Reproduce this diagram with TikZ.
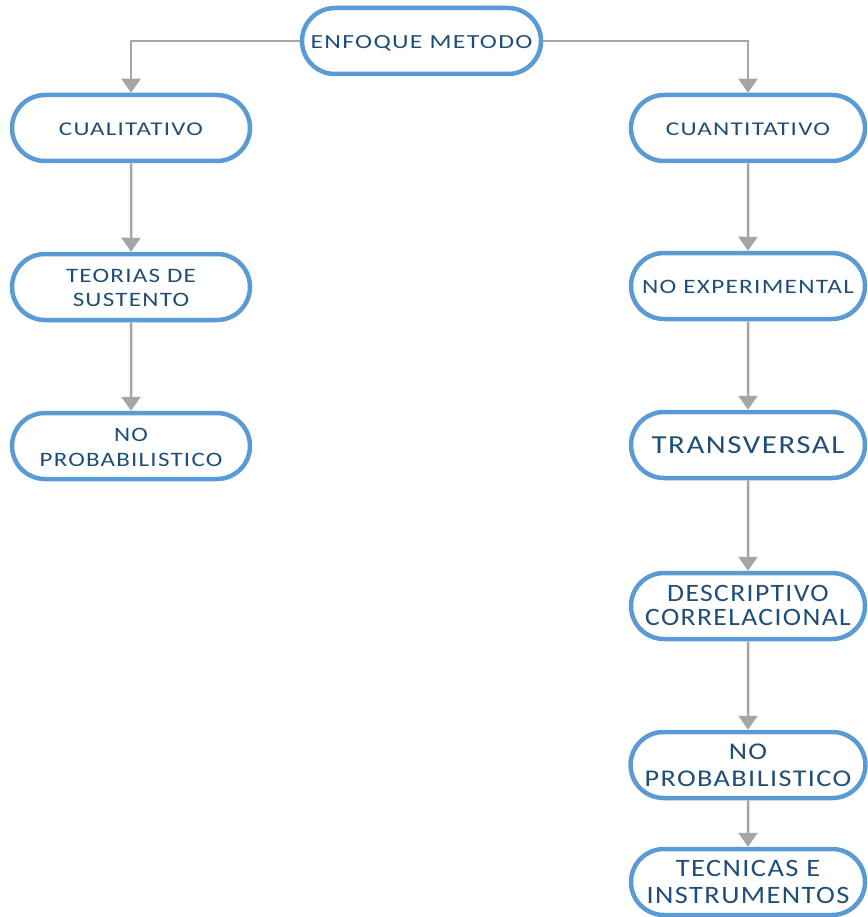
\documentclass[tikz,border=0pt]{standalone}
\usepackage{fontspec}
\setmainfont{Carlito}[LetterSpace=5]
\usetikzlibrary{shapes.misc,arrows.meta}
\definecolor{boxline}{RGB}{91,155,213}
\definecolor{boxtext}{RGB}{31,78,121}
\definecolor{linkgray}{RGB}{165,165,165}
% horizontally widened, centred label text (lowered a little, size kept)
\newcommand{\widelabel}[2]{\raisebox{-2.5pt}[\height][\depth]{\scalebox{#1}[1]{\begin{tabular}{@{}c@{}}#2\end{tabular}}}}
\tikzset{
  pill/.style={rounded rectangle, draw=boxline, line width=4.5pt, fill=white,
    text=boxtext, align=center, minimum height=66pt, inner sep=0pt},
  leftpill/.style={pill, minimum width=238pt},
  rightpill/.style={pill, minimum width=234pt},
  fs/.style 2 args={font=\fontsize{#1}{#2}\selectfont},
  link/.style={draw=linkgray, line width=2.5pt,
    -{Triangle[width=19pt,length=14pt]}}
}
\begin{document}
\begin{tikzpicture}[x=1pt,y=-1pt]
\useasboundingbox (0,0) rectangle (867,917);

% top of the tree
\node[pill, minimum width=239pt, fs={20}{24}] (root) at (421.5,41)
  {\widelabel{1.288}{ENFOQUE METODO}};

% qualitative branch
\node[leftpill, fs={19.5}{24}] (cual) at (131,128) {\widelabel{1.281}{CUALITATIVO}};
\node[leftpill, fs={20.5}{24}] (teo) at (131,287) {\widelabel{1.223}{TEORIAS DE\\SUSTENTO}};
\node[leftpill, fs={20.5}{25}] (noprobL) at (131,446) {\widelabel{1.218}{NO\\PROBABILISTICO}};

% quantitative branch
\node[rightpill, fs={19.5}{24}] (cuant) at (748,128) {\widelabel{1.29}{CUANTITATIVO}};
\node[rightpill, fs={20.5}{24}] (noexp) at (748,286) {\widelabel{1.232}{NO EXPERIMENTAL}};
\node[rightpill, fs={26}{30}] (trans) at (748,445) {\widelabel{1.187}{TRANSVERSAL}};
\node[rightpill, fs={25}{24}] (desc) at (748,606) {\widelabel{1.105}{DESCRIPTIVO\\CORRELACIONAL}};
\node[rightpill, fs={24}{27}] (noprobR) at (748,765) {\widelabel{1.177}{NO\\PROBABILISTICO}};
\node[rightpill, fs={25}{27.5}] (tec) at (748,882) {\widelabel{1.137}{TECNICAS E\\INSTRUMENTOS}};

% connectors
\draw[link] (root.west) -| (cual.north);
\draw[link] (root.east) -| (cuant.north);
\draw[link] (cual) -- (teo);
\draw[link] (teo) -- (noprobL);
\draw[link] (cuant) -- (noexp);
\draw[link] (noexp) -- (trans);
\draw[link] (trans) -- (desc);
\draw[link] (desc) -- (noprobR);
\draw[link] (noprobR) -- (tec);
\end{tikzpicture}
\end{document}
